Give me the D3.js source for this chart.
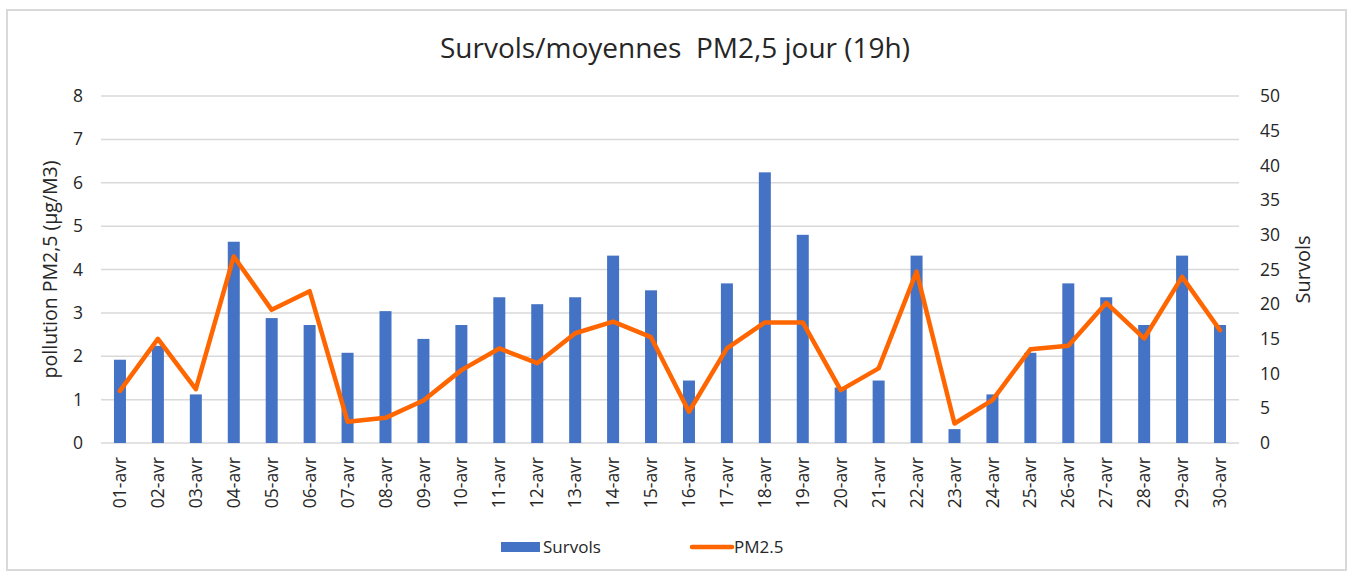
<!doctype html>
<html>
<head>
	<meta charset="UTF-8">
	<title>Survols / PM2,5</title>
	<style>
		body { margin: 0; background: #fff; }
		#container { font-size: 0; }
		text { font-family: "Open Sans", "Noto Sans", sans-serif; fill: #262626; }
	</style>
</head>
<body>
<div id="container"></div>
<script src="https://cdn.jsdelivr.net/npm/d3@7"></script>
<script>
	var w = 1350;
	var h = 574;

	var days = ["01-avr", "02-avr", "03-avr", "04-avr", "05-avr", "06-avr", "07-avr", "08-avr", "09-avr", "10-avr",
		"11-avr", "12-avr", "13-avr", "14-avr", "15-avr", "16-avr", "17-avr", "18-avr", "19-avr", "20-avr",
		"21-avr", "22-avr", "23-avr", "24-avr", "25-avr", "26-avr", "27-avr", "28-avr", "29-avr", "30-avr"];
	var survols = [12, 14, 7, 29, 18, 17, 13, 19, 15, 17,
		21, 20, 21, 27, 22, 9, 23, 39, 30, 8,
		9, 27, 2, 7, 13, 23, 21, 17, 27, 17];
	var pm25 = [1.2, 2.4, 1.24, 4.3, 3.07, 3.5, 0.49, 0.58, 0.98, 1.68,
		2.18, 1.84, 2.53, 2.8, 2.44, 0.72, 2.18, 2.78, 2.78, 1.22,
		1.72, 3.95, 0.45, 0.99, 2.16, 2.24, 3.23, 2.41, 3.83, 2.6];
	var leftTicks = [0, 1, 2, 3, 4, 5, 6, 7, 8];
	var rightTicks = [0, 5, 10, 15, 20, 25, 30, 35, 40, 45, 50];

	var m = {left: 101, right: 1239, top: 96, bottom: 443};

	var svg = d3.select("#container")
			.append("svg")
			.attr("width", w)
			.attr("height", h);

	// cadre
	svg.append("rect")
			.attr("x", 7).attr("y", 10)
			.attr("width", 1339).attr("height", 560)
			.attr("fill", "#fff")
			.attr("stroke", "#d9d9d9")
			.attr("stroke-width", 2);

	var xScale = d3.scaleBand()
			.domain(days)
			.range([m.left, m.right]);
	var yLeft = d3.scaleLinear()
			.domain([0, 8])
			.range([m.bottom, m.top]);
	var yRight = d3.scaleLinear()
			.domain([0, 50])
			.range([m.bottom, m.top]);

	// grille
	svg.append("g")
			.selectAll("line")
			.data(leftTicks)
			.enter()
			.append("line")
			.attr("x1", m.left)
			.attr("x2", m.right)
			.attr("y1", function (d) { return yLeft(d); })
			.attr("y2", function (d) { return yLeft(d); })
			.attr("stroke", "#d9d9d9")
			.attr("stroke-width", 1.5);

	// axes
	var axL = svg.append("g")
			.attr("transform", "translate(" + (m.left - 18) + ",0)")
			.call(d3.axisLeft(yLeft).tickValues(leftTicks).tickSize(0).tickPadding(0));
	var axR = svg.append("g")
			.attr("transform", "translate(" + (m.right + 21) + ",0)")
			.call(d3.axisRight(yRight).tickValues(rightTicks).tickSize(0).tickPadding(0));
	var axX = svg.append("g")
			.attr("transform", "translate(0," + (m.bottom + 14) + ")")
			.call(d3.axisBottom(xScale).tickSize(0).tickPadding(0));
	[axL, axR, axX].forEach(function (a) {
		a.select(".domain").remove();
		a.selectAll("text")
				.attr("font-family", "Open Sans")
				.attr("font-size", 17.5)
				.attr("fill", "#262626");
	});
	axX.selectAll("text")
			.attr("transform", "rotate(-90)")
			.attr("text-anchor", "end")
			.attr("x", 0)
			.attr("y", 0)
			.attr("dy", "0.35em");

	// barres
	var bw = 12;
	svg.append("g")
			.selectAll("rect")
			.data(survols)
			.enter()
			.append("rect")
			.attr("x", function (d, i) { return xScale(days[i]) + xScale.bandwidth() / 2 - bw / 2; })
			.attr("y", function (d) { return yRight(d); })
			.attr("width", bw)
			.attr("height", function (d) { return m.bottom - yRight(d); })
			.attr("fill", "#4472c4");

	// courbe
	var line = d3.line()
			.x(function (d, i) { return xScale(days[i]) + xScale.bandwidth() / 2; })
			.y(function (d) { return yLeft(d); });
	svg.append("path")
			.datum(pm25)
			.attr("d", line)
			.attr("fill", "none")
			.attr("stroke", "#ff6600")
			.attr("stroke-width", 4.5)
			.attr("stroke-linejoin", "round")
			.attr("stroke-linecap", "round");

	// titres
	svg.append("text")
			.attr("x", 675)
			.attr("y", 58)
			.attr("text-anchor", "middle")
			.attr("font-size", 28)
			.attr("fill", "#1a1a1a")
			.attr("xml:space", "preserve")
			.text("Survols/moyennes  PM2,5 jour (19h)");
	svg.append("text")
			.attr("transform", "translate(50," + ((m.top + m.bottom) / 2) + ") rotate(-90)")
			.attr("text-anchor", "middle")
			.attr("dy", "0.35em")
			.attr("font-size", 19.5)
			.text("pollution PM2,5 (µg/M3)");
	svg.append("text")
			.attr("transform", "translate(1303," + ((m.top + m.bottom) / 2) + ") rotate(-90)")
			.attr("text-anchor", "middle")
			.attr("dy", "0.35em")
			.attr("font-size", 20)
			.text("Survols");

	// légende
	var lg = svg.append("g");
	lg.append("rect")
			.attr("x", 501).attr("y", 542)
			.attr("width", 39).attr("height", 10)
			.attr("fill", "#4472c4");
	lg.append("text")
			.attr("x", 543).attr("y", 547)
			.attr("dy", "0.35em")
			.attr("font-size", 17)
			.text("Survols");
	lg.append("line")
			.attr("x1", 692).attr("x2", 732)
			.attr("y1", 547).attr("y2", 547)
			.attr("stroke", "#ff6600")
			.attr("stroke-width", 4.5)
			.attr("stroke-linecap", "round");
	lg.append("text")
			.attr("x", 734).attr("y", 547)
			.attr("dy", "0.35em")
			.attr("font-size", 17)
			.text("PM2.5");
</script>
</body>
</html>
